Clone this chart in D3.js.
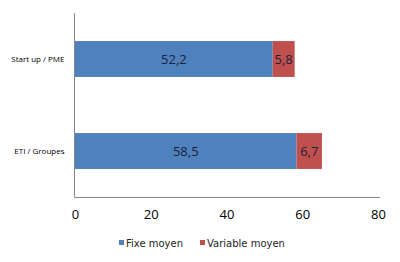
<!DOCTYPE html>
<html>
<head>
<meta charset="utf-8">
<script src="https://cdn.jsdelivr.net/npm/d3@7/dist/d3.min.js"></script>
<style>
  html, body { margin: 0; padding: 0; background: #fff; }
  svg { display: block; }
</style>
</head>
<body>
<svg id="chart" width="400" height="262"></svg>
<script>
// Salary composition by company type (k€)
const categories = ["Start up / PME", "ETI / Groupes"];
const fixeMoyen = [52.2, 58.5];
const variableMoyen = [5.8, 6.7];
const seriesNames = ["Fixe moyen", "Variable moyen"];
const seriesColors = ["#4F81BD", "#C0504D"];
const xTicks = [0, 20, 40, 60, 80];

const svg = d3.select("#chart");
const plotLeft = 75, plotRight = 378, plotTop = 13, plotBottom = 197;

const x = d3.scaleLinear().domain([0, 80]).range([plotLeft, plotRight]);
const y = d3.scaleBand().domain(categories).range([plotTop, plotBottom]).paddingInner(0.61).paddingOuter(0.305);

const rows = categories.map((c, i) => ({ cat: c, Fixe: fixeMoyen[i], Variable: variableMoyen[i] }));
const stack = d3.stack().keys(["Fixe", "Variable"])(rows);

// Stacked bars with value labels
stack.forEach((layer, li) => {
  const g = svg.append("g");
  g.selectAll("rect").data(layer).join("rect")
    .attr("x", d => x(d[0]))
    .attr("y", d => y(d.data.cat))
    .attr("width", d => x(d[1]) - x(d[0]))
    .attr("height", y.bandwidth())
    .attr("fill", seriesColors[li]);
  g.selectAll("text").data(layer).join("text")
    .attr("x", d => (x(d[0]) + x(d[1])) / 2)
    .attr("y", d => y(d.data.cat) + y.bandwidth() / 2)
    .attr("dy", "0.36em")
    .attr("text-anchor", "middle")
    .attr("font-family", "Open Sans, sans-serif")
    .attr("font-size", 13)
    .attr("fill", "#1b2140")
    .text(d => d3.format(".1f")(d[1] - d[0]).replace(".", ","));
});

// Vertical category axis
const yAxis = svg.append("g").attr("transform", `translate(${plotLeft - 0.5},0)`)
  .call(d3.axisLeft(y).tickSize(0).tickPadding(10));
yAxis.select(".domain").attr("stroke", "#868686").attr("d", `M0,${plotTop}V${plotBottom}`);
yAxis.selectAll("text").attr("font-family", "Open Sans, sans-serif").attr("font-size", 8).attr("fill", "#000");

// Horizontal value axis
const xAxis = svg.append("g").attr("transform", `translate(0,${plotBottom + 0.5})`)
  .call(d3.axisBottom(x).tickValues(xTicks).tickSize(0).tickPadding(12).tickFormat(d3.format("d")));
xAxis.select(".domain").attr("stroke", "#868686").attr("d", `M${plotLeft - 0.5},0H${plotRight + 2}`);
xAxis.selectAll("text").attr("font-family", "Open Sans, sans-serif").attr("font-size", 13).attr("fill", "#000");

// Legend
const legendX = [119, 200];
const legend = svg.append("g");
seriesNames.forEach((name, i) => {
  legend.append("rect").attr("x", legendX[i]).attr("y", 240).attr("width", 5).attr("height", 5).attr("fill", seriesColors[i]);
  legend.append("text").attr("x", legendX[i] + 7).attr("y", 243).attr("dy", "0.35em")
    .attr("font-family", "DejaVu Sans, sans-serif").attr("font-size", 10).attr("fill", "#222")
    .text(name);
});
</script>
</body>
</html>
